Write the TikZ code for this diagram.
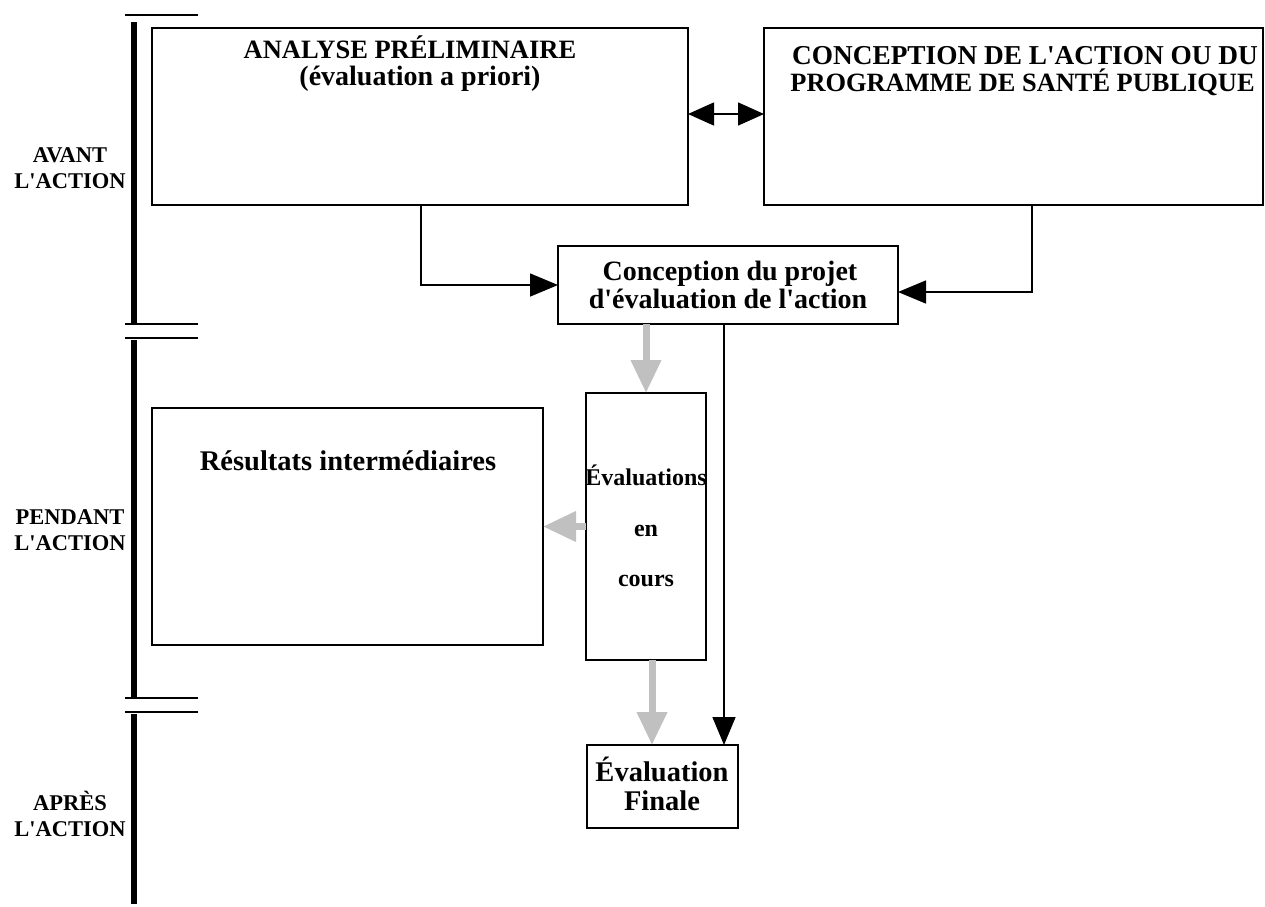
\documentclass[tikz,border=0pt]{standalone}
\usepackage{fontspec}
\setmainfont{Liberation Serif}
\usetikzlibrary{arrows.meta}
\definecolor{arrgray}{RGB}{192,192,192}
\newcommand{\q}{\textquotesingle}
\begin{document}
\begin{tikzpicture}[x=1pt,y=-1pt,
  box/.style={draw, line width=1.5pt, inner sep=0pt, outer sep=0pt, anchor=north west},
  txt/.style={inner sep=0pt, anchor=base, font=\bfseries\fontsize{#1}{#1}\selectfont},
  txt/.default=26,
  blk/.style={line width=1.5pt, -{Triangle[length=28pt,width=23pt]}},
  dbl/.style={line width=1.5pt, {Triangle[length=26pt,width=23pt]}-{Triangle[length=26pt,width=23pt]}},
  gry/.style={draw=arrgray, line width=7pt, -{Triangle[length=33pt,width=29pt,fill=arrgray]}},
  sep/.style={line width=1.5pt},
  bar/.style={line width=6pt}]
\useasboundingbox (0,0) rectangle (1265,906);
% timeline
\draw[sep] (125,15) -- (198,15);
\draw[bar] (134,22) -- (134,323);
\draw[sep] (125,324) -- (198,324);
\draw[sep] (125,338) -- (198,338);
\draw[bar] (134,340) -- (134,697);
\draw[sep] (125,698) -- (198,698);
\draw[sep] (125,712) -- (198,712);
\draw[bar] (134,714) -- (134,904);
% side labels
\node[txt=22.5] (s1a) at (70,162) {AVANT};
\node[txt=22.5] (s1b) at (70,188) {L\q ACTION};
\node[txt=22.5] (s2a) at (70,524) {PENDANT};
\node[txt=22.5] (s2b) at (70,550) {L\q ACTION};
\node[txt=22.5] (s3a) at (70,810) {APRÈS};
\node[txt=22.5] (s3b) at (70,836) {L\q ACTION};
% boxes
\node[box, minimum width=536pt, minimum height=177pt] (A) at (152,28) {};
\node[box, minimum width=499pt, minimum height=177pt] (C) at (764,28) {};
\node[box, minimum width=340pt, minimum height=78pt] (P) at (558,246) {};
\node[box, minimum width=120pt, minimum height=267pt] (E) at (586,393) {};
\node[box, minimum width=391pt, minimum height=237pt] (R) at (152,408) {};
\node[box, minimum width=151pt, minimum height=83pt] (F) at (587,745) {};
% texts
\node[txt=26.5] (a1) at (410,58) {ANALYSE PRÉLIMINAIRE};
\node[txt=28] (a2) at (420,85) {(évaluation a priori)};
\node[txt=27.3] (c1) at (1025,64) {CONCEPTION DE L\q ACTION OU DU};
\node[txt=26.4] (c2) at (1022.5,91) {PROGRAMME DE SANTÉ PUBLIQUE};
\node[txt=28] (p1) at (730,280) {Conception du projet};
\node[txt=28] (p2) at (728,308) {d\q évaluation de l\q action};
\node[txt=28.5] (r1) at (348,470) {Résultats intermédiaires};
\node[txt=24] (e1) at (646,485) {Évaluations};
\node[txt=24] (e2) at (646,536) {en};
\node[txt=24] (e3) at (646,586) {cours};
\node[txt=28.5] (f1) at (662,781) {Évaluation};
\node[txt=28.5] (f2) at (662,810) {Finale};
% connectors
\coordinate (ya) at (0,114);
\draw[dbl] (A.east |- ya) -- (C.west |- ya);
\coordinate (ab) at ([xshift=269pt]A.south west);
\draw[blk] (ab) |- (P.west);
\coordinate (cb) at ([xshift=268pt]C.south west);
\coordinate (pe) at ([yshift=-7pt]P.east);
\draw[blk] (cb) |- (pe);
\draw[gry] (E.north |- P.south) -- (E.north);
\coordinate (pf) at ([xshift=166pt]P.south west);
\draw[blk] (pf) -- (pf |- F.north);
\coordinate (ef) at ([xshift=6pt]E.south);
\draw[gry] (ef) -- (ef |- F.north);
\draw[gry] (E.west) -- (R.east);
\end{tikzpicture}
\end{document}
